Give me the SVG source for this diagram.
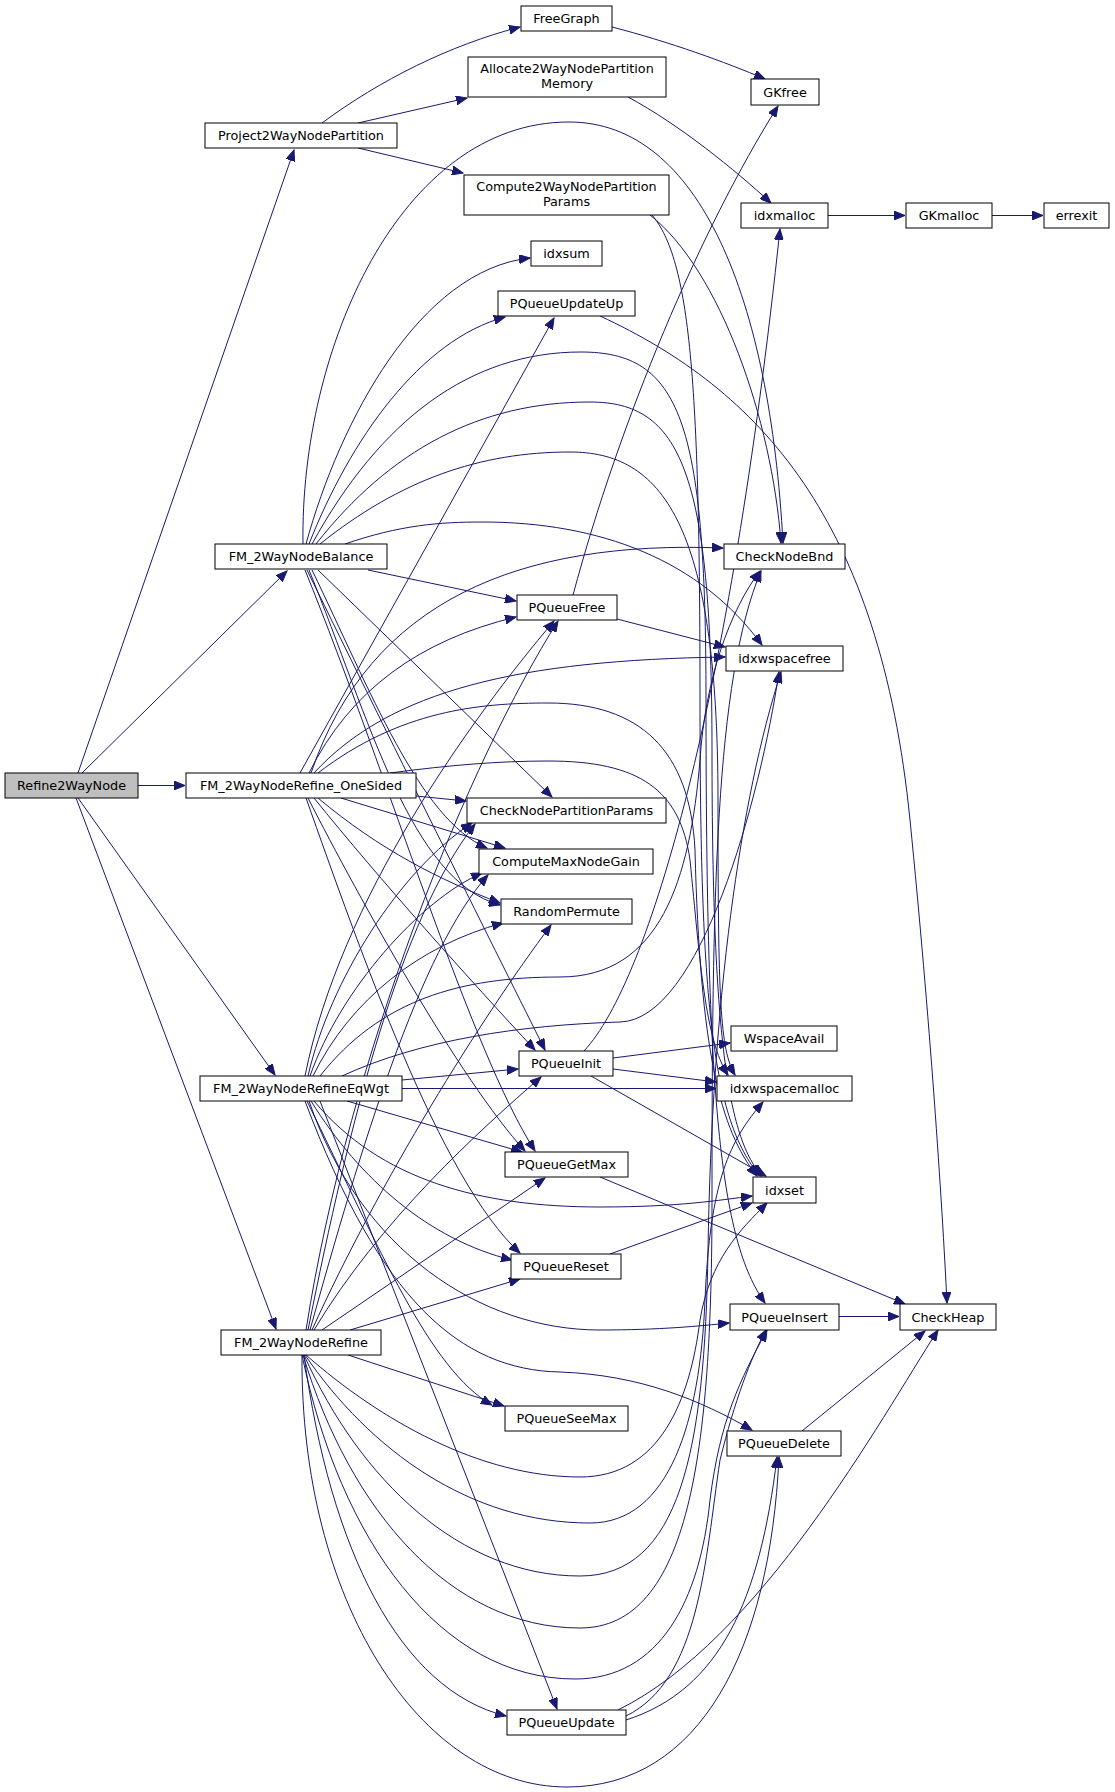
<svg xmlns="http://www.w3.org/2000/svg" width="1115" height="1792" viewBox="0 0 1115 1792">
<defs>
<marker id="a" markerWidth="12" markerHeight="9" refX="11" refY="4.5" orient="auto" markerUnits="userSpaceOnUse">
<path d="M0,0 L11,4.5 L0,9 z" fill="#191970" stroke="#191970" stroke-width="1"/>
</marker>
</defs>
<style>
.n rect{fill:#ffffff;stroke:#000000;stroke-width:1}
.r rect{fill:#bfbfbf;stroke:#000000;stroke-width:1}
text{font-family:"DejaVu Sans","Liberation Sans",sans-serif;font-size:12.8px;fill:#000;text-anchor:middle}
#edges path{fill:none;stroke:#191970;stroke-width:1;marker-end:url(#a)}
</style>
<rect width="1115" height="1792" fill="#ffffff"/>
<g id="edges">
<path d="M78,773 L294,150"/>
<path d="M82,773 L287,571"/>
<path d="M138,785.5 L185,785.5"/>
<path d="M78,798 L275,1075"/>
<path d="M76,798 L276,1329"/>
<path d="M322,123 C380,80 450,45 520,27"/>
<path d="M358,123 L467,98"/>
<path d="M358,148 L463,173"/>
<path d="M612,27 C670,42 725,62 765,79"/>
<path d="M628,97 C680,125 735,170 771,203"/>
<path d="M650,215 C720,270 772,420 781,543"/>
<path d="M652,215 C690,260 700,380 700,700 C700,1000 712,1120 760,1176"/>
<path d="M828,215.5 L905,215.5"/>
<path d="M992,215.5 L1043,215.5"/>
<path d="M303,544 C300,350 400,122 569,122 C700,122 770,300 783,543"/>
<path d="M306,544 C340,420 420,270 530,258"/>
<path d="M309,544 C350,440 420,340 505,317"/>
<path d="M600,316 C760,390 880,520 910,820 C930,1020 942,1200 947,1303"/>
<path d="M312,544 C380,420 470,352 581,352 C680,352 706,420 706,700 C706,1100 720,1240 765,1303"/>
<path d="M316,544 C390,450 480,402 590,402 C680,402 712,470 712,750 C712,1050 730,1140 762,1176"/>
<path d="M320,544 C400,480 480,452 570,452 C660,452 718,520 718,800 C718,1000 720,1050 735,1075"/>
<path d="M345,544 C400,525 440,522 482,522 C600,522 700,560 762,645"/>
<path d="M368,570 L516,601"/>
<path d="M318,570 L552,797"/>
<path d="M312,570 C370,690 420,820 487,848"/>
<path d="M309,570 C370,720 410,880 500,905"/>
<path d="M307,570 C400,760 500,960 545,1050"/>
<path d="M305,570 C390,780 470,1050 535,1151"/>
<path d="M573,595 C620,420 700,230 778,106"/>
<path d="M617,619 L725,647"/>
<path d="M311,773 C370,600 520,540 723,548"/>
<path d="M309,773 C350,690 420,640 516,617"/>
<path d="M314,773 C390,690 520,660 725,657"/>
<path d="M300,773 L554,318"/>
<path d="M318,773 C400,710 480,703 548,703 C640,703 690,750 695,850 C700,1050 720,1130 757,1176"/>
<path d="M390,773 C450,765 500,761 548,761 C640,761 680,790 690,860 C700,960 705,1040 728,1075"/>
<path d="M416,796 L466,801"/>
<path d="M341,798 L505,848"/>
<path d="M318,798 C380,850 440,880 500,903"/>
<path d="M314,798 C380,880 470,980 535,1050"/>
<path d="M308,798 C360,900 460,1080 525,1151"/>
<path d="M306,798 C360,950 440,1180 520,1253"/>
<path d="M613,1058 L730,1043"/>
<path d="M613,1069 L716,1082"/>
<path d="M591,1076 L766,1176"/>
<path d="M584,1051 C650,980 730,700 780,229"/>
<path d="M402,1080 L518,1069"/>
<path d="M402,1088.5 L716,1088.5"/>
<path d="M347,1101 L522,1152"/>
<path d="M314,1101 C380,1180 480,1207 600,1207 C680,1207 720,1200 752,1196"/>
<path d="M311,1101 C360,1180 430,1240 512,1260"/>
<path d="M309,1101 C360,1250 480,1330 600,1330 C660,1330 700,1326 729,1323"/>
<path d="M305,1101 C380,1300 460,1370 560,1372 C640,1375 700,1400 752,1430"/>
<path d="M307,1101 C380,1250 430,1370 492,1405"/>
<path d="M320,1101 L557,1709"/>
<path d="M313,1076 C350,1000 420,945 503,923"/>
<path d="M310,1076 C340,990 420,900 482,873"/>
<path d="M308,1076 C330,980 400,870 472,823"/>
<path d="M305,1076 C340,900 470,720 554,621"/>
<path d="M342,1076 C420,1040 520,1025 620,1022 C700,1020 760,800 779,672"/>
<path d="M320,1076 C380,1000 460,977 560,977 C660,977 690,880 700,760 C705,680 730,610 760,571"/>
<path d="M600,1177 L905,1304"/>
<path d="M610,1254 L752,1203"/>
<path d="M839,1316.5 L899,1316.5"/>
<path d="M802,1431 L925,1331"/>
<path d="M626,1716 C700,1680 705,1560 720,1460 C735,1400 750,1360 766,1330"/>
<path d="M626,1720 C720,1690 760,1600 777,1457"/>
<path d="M618,1710 C760,1640 880,1420 938,1330"/>
<path d="M348,1355 L504,1406"/>
<path d="M350,1330 L520,1279"/>
<path d="M322,1330 L545,1178"/>
<path d="M314,1330 C380,1220 480,1130 541,1077"/>
<path d="M312,1330 C380,1180 480,1020 551,925"/>
<path d="M310,1330 C360,1150 420,950 488,875"/>
<path d="M308,1330 C350,1120 400,920 475,824"/>
<path d="M306,1330 C350,1050 470,760 558,621"/>
<path d="M304,1355 C330,1550 400,1690 506,1716"/>
<path d="M302,1355 C300,1600 420,1787 567,1787 C700,1787 770,1650 779,1457"/>
<path d="M306,1355 C380,1420 480,1477 580,1477 C660,1477 690,1400 700,1320 C710,1260 740,1230 767,1203"/>
<path d="M305,1355 C370,1450 470,1523 590,1523 C670,1523 700,1420 705,1300 C710,1180 730,1140 763,1102"/>
<path d="M304,1355 C360,1480 460,1576 580,1576 C680,1576 705,1450 708,1250 C712,1000 740,800 781,672"/>
<path d="M303,1355 C350,1510 450,1628 580,1628 C690,1628 712,1450 712,1200 C712,900 715,680 761,571"/>
<path d="M302,1355 C340,1540 440,1679 575,1679 C660,1679 700,1600 710,1500 C720,1420 740,1380 767,1330"/>
</g>
<g id="Refine2WayNode" class="r"><rect x="5" y="773" width="133" height="25"/><text x="71.5" y="790">Refine2WayNode</text></g>
<g id="Project2WayNodePartition" class="n"><rect x="205" y="123" width="192" height="25"/><text x="301" y="140">Project2WayNodePartition</text></g>
<g id="FreeGraph" class="n"><rect x="521" y="6" width="91" height="25"/><text x="566.5" y="23">FreeGraph</text></g>
<g id="Allocate2WayNodePartitionMemory" class="n"><rect x="468" y="57" width="198" height="40"/><text x="567" y="73">Allocate2WayNodePartition</text><text x="567" y="88">Memory</text></g>
<g id="GKfree" class="n"><rect x="751" y="79" width="68" height="26"/><text x="785" y="96.5">GKfree</text></g>
<g id="Compute2WayNodePartitionParams" class="n"><rect x="464" y="175" width="205" height="40"/><text x="566.5" y="191">Compute2WayNodePartition</text><text x="566.5" y="206">Params</text></g>
<g id="idxmalloc" class="n"><rect x="741" y="203" width="87" height="25"/><text x="784.5" y="220">idxmalloc</text></g>
<g id="GKmalloc" class="n"><rect x="906" y="203" width="86" height="25"/><text x="949" y="220">GKmalloc</text></g>
<g id="errexit" class="n"><rect x="1044" y="203" width="65" height="25"/><text x="1076.5" y="220">errexit</text></g>
<g id="idxsum" class="n"><rect x="531" y="241" width="71" height="25"/><text x="566.5" y="258">idxsum</text></g>
<g id="PQueueUpdateUp" class="n"><rect x="498" y="291" width="137" height="25"/><text x="566.5" y="308">PQueueUpdateUp</text></g>
<g id="FM_2WayNodeBalance" class="n"><rect x="215" y="544" width="172" height="25"/><text x="301" y="561">FM_2WayNodeBalance</text></g>
<g id="CheckNodeBnd" class="n"><rect x="724" y="544" width="121" height="25"/><text x="784.5" y="561">CheckNodeBnd</text></g>
<g id="PQueueFree" class="n"><rect x="517" y="595" width="100" height="25"/><text x="567" y="612">PQueueFree</text></g>
<g id="idxwspacefree" class="n"><rect x="726" y="646" width="117" height="25"/><text x="784.5" y="663">idxwspacefree</text></g>
<g id="FM_2WayNodeRefine_OneSided" class="n"><rect x="186" y="773" width="230" height="25"/><text x="301" y="790">FM_2WayNodeRefine_OneSided</text></g>
<g id="CheckNodePartitionParams" class="n"><rect x="467" y="798" width="199" height="25"/><text x="566.5" y="815">CheckNodePartitionParams</text></g>
<g id="ComputeMaxNodeGain" class="n"><rect x="479" y="849" width="174" height="25"/><text x="566" y="866">ComputeMaxNodeGain</text></g>
<g id="RandomPermute" class="n"><rect x="501" y="899" width="131" height="25"/><text x="566.5" y="916">RandomPermute</text></g>
<g id="WspaceAvail" class="n"><rect x="731" y="1026" width="106" height="25"/><text x="784" y="1043">WspaceAvail</text></g>
<g id="PQueueInit" class="n"><rect x="519" y="1051" width="94" height="25"/><text x="566" y="1068">PQueueInit</text></g>
<g id="FM_2WayNodeRefineEqWgt" class="n"><rect x="200" y="1076" width="202" height="25"/><text x="301" y="1093">FM_2WayNodeRefineEqWgt</text></g>
<g id="idxwspacemalloc" class="n"><rect x="717" y="1076" width="135" height="25"/><text x="784.5" y="1093">idxwspacemalloc</text></g>
<g id="PQueueGetMax" class="n"><rect x="505" y="1152" width="123" height="25"/><text x="566.5" y="1169">PQueueGetMax</text></g>
<g id="idxset" class="n"><rect x="753" y="1177" width="63" height="26"/><text x="784.5" y="1194.5">idxset</text></g>
<g id="PQueueReset" class="n"><rect x="511" y="1254" width="110" height="25"/><text x="566" y="1271">PQueueReset</text></g>
<g id="FM_2WayNodeRefine" class="n"><rect x="221" y="1330" width="160" height="25"/><text x="301" y="1347">FM_2WayNodeRefine</text></g>
<g id="PQueueInsert" class="n"><rect x="730" y="1304" width="109" height="26"/><text x="784.5" y="1321.5">PQueueInsert</text></g>
<g id="CheckHeap" class="n"><rect x="900" y="1304" width="96" height="26"/><text x="948" y="1321.5">CheckHeap</text></g>
<g id="PQueueSeeMax" class="n"><rect x="505" y="1406" width="123" height="25"/><text x="566.5" y="1423">PQueueSeeMax</text></g>
<g id="PQueueDelete" class="n"><rect x="727" y="1431" width="114" height="25"/><text x="784" y="1448">PQueueDelete</text></g>
<g id="PQueueUpdate" class="n"><rect x="507" y="1710" width="119" height="25"/><text x="566.5" y="1727">PQueueUpdate</text></g>
</svg>
